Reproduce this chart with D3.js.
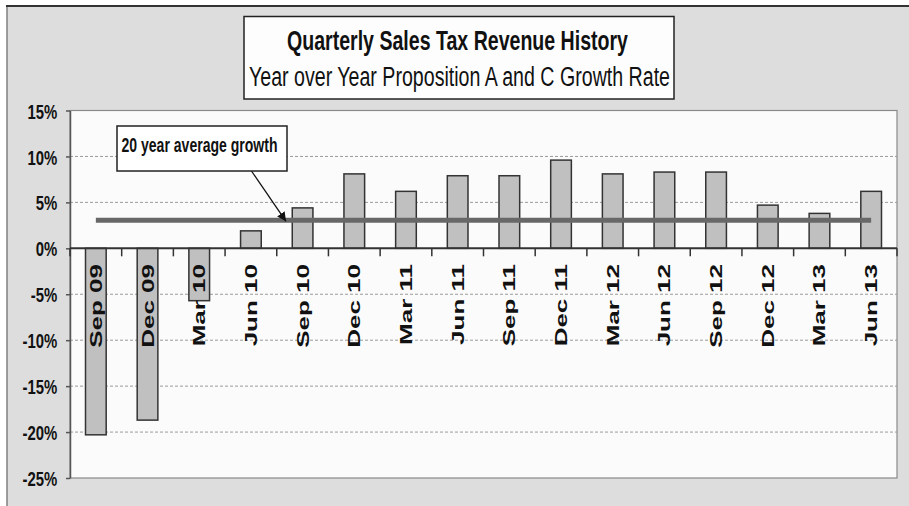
<!DOCTYPE html>
<html>
<head>
<meta charset="utf-8">
<script src="https://cdn.jsdelivr.net/npm/d3@7"></script>
<style>
  html, body { margin: 0; padding: 0; background: #fff; }
  svg { display: block; font-family: "Liberation Sans", Arial, sans-serif; }
</style>
</head>
<body>
<svg id="chart" width="909" height="506"></svg>
<script>
const categories = ['Sep 09', 'Dec 09', 'Mar 10', 'Jun 10', 'Sep 10', 'Dec 10', 'Mar 11', 'Jun 11',
  'Sep 11', 'Dec 11', 'Mar 12', 'Jun 12', 'Sep 12', 'Dec 12', 'Mar 13', 'Jun 13'];
const growthRate = [-20.3, -18.7, -5.7, 1.9, 4.4, 8.1, 6.2, 7.9, 7.9, 9.6, 8.1, 8.3, 8.3, 4.7, 3.8, 6.2];
const avgGrowth = 3.05;
const yTicks = [15, 10, 5, 0, -5, -10, -15, -20, -25];
const titleText = 'Quarterly Sales Tax Revenue History';
const subtitleText = 'Year over Year Proposition A and C Growth Rate';
const noteText = '20 year average growth';

const svg = d3.select('#chart');
const plot = { left: 70, right: 897, top: 110.5, bottom: 478 };

// outer chart frame
svg.append('rect').attr('x', 7).attr('y', 6).attr('width', 1000).attr('height', 600)
  .attr('fill', '#dddddd').attr('stroke', '#808080').attr('stroke-width', 1.5);
svg.append('line').attr('x1', 6).attr('x2', 909).attr('y1', 6).attr('y2', 6)
  .attr('stroke', '#333').attr('stroke-width', 2);

const x = d3.scaleBand().domain(categories).range([plot.left, plot.right]).paddingInner(0.6).paddingOuter(0.3);
const y = d3.scaleLinear().domain([-25, 15]).range([plot.bottom, plot.top]);
const step = x.step();
const bandLeft = d => x(d) - step * 0.3;

svg.append('rect').attr('x', plot.left).attr('y', plot.top)
  .attr('width', plot.right - plot.left).attr('height', plot.bottom - plot.top)
  .attr('fill', '#fbfbfb').attr('stroke', '#8a8a8a').attr('stroke-width', 1.2);

// dashed gridlines
svg.append('g').selectAll('line').data(yTicks.filter(t => t !== 15 && t !== -25 && t !== 0)).join('line')
  .attr('x1', plot.left).attr('x2', plot.right)
  .attr('y1', d => y(d)).attr('y2', d => y(d))
  .attr('stroke', '#9a9a9a').attr('stroke-width', 1).attr('stroke-dasharray', '3,2');

// y axis
const yAxis = svg.append('g').attr('transform', `translate(${plot.left},0)`)
  .call(d3.axisLeft(y).tickValues(yTicks).tickFormat(d => d + '%').tickSize(4).tickSizeOuter(0));
yAxis.select('.domain').attr('stroke', '#555').attr('stroke-width', 1.5);
yAxis.selectAll('.tick line').attr('stroke', '#555').attr('stroke-width', 1.5);
yAxis.selectAll('.tick text')
  .attr('x', -18).attr('dy', '0.36em')
  .attr('transform', 'scale(0.71,1)')
  .attr('font-size', 21).attr('font-weight', 'bold').attr('fill', '#111');

// bars
svg.append('g').selectAll('rect').data(categories).join('rect')
  .attr('x', d => x(d))
  .attr('width', x.bandwidth())
  .attr('y', (d, i) => y(Math.max(0, growthRate[i])))
  .attr('height', (d, i) => Math.abs(y(growthRate[i]) - y(0)))
  .attr('fill', '#c0c0c0').attr('stroke', '#333').attr('stroke-width', 1.5);

// zero axis with category ticks
svg.append('line').attr('x1', plot.left).attr('x2', plot.right).attr('y1', y(0)).attr('y2', y(0))
  .attr('stroke', '#333').attr('stroke-width', 2);
const boundaries = categories.map(bandLeft).concat([plot.right]);
svg.append('g').selectAll('line').data(boundaries).join('line')
  .attr('x1', d => d).attr('x2', d => d).attr('y1', y(0)).attr('y2', y(0) + 8)
  .attr('stroke', '#333').attr('stroke-width', 1.5);

// average growth line
const avgLine = d3.line().x(d => x(d) + x.bandwidth() / 2).y(() => y(avgGrowth));
svg.append('path').datum(categories).attr('d', avgLine)
  .attr('fill', 'none').attr('stroke', '#686868').attr('stroke-width', 5);

// rotated category labels
svg.append('g').selectAll('text').data(categories).join('text')
  .attr('transform', d => `translate(${x(d) + x.bandwidth() / 2},264) rotate(-90) scale(1,0.66)`)
  .attr('text-anchor', 'end').attr('dy', '0.35em')
  .attr('font-size', 26).attr('font-weight', 'bold').attr('fill', '#111')
  .text(d => d);

// annotation
svg.append('defs').append('marker').attr('id', 'arrow').attr('viewBox', '0 0 10 10')
  .attr('refX', 10).attr('refY', 5).attr('markerWidth', 9).attr('markerHeight', 9)
  .attr('markerUnits', 'userSpaceOnUse').attr('orient', 'auto')
  .append('path').attr('d', 'M0,0 L10,5 L0,10 Z').attr('fill', '#111');
svg.append('line').attr('x1', 251.5).attr('y1', 171).attr('x2', 286).attr('y2', y(avgGrowth) + 1)
  .attr('stroke', '#111').attr('stroke-width', 1.3).attr('marker-end', 'url(#arrow)');
svg.append('rect').attr('x', 117).attr('y', 126).attr('width', 170).attr('height', 45)
  .attr('fill', '#fff').attr('stroke', '#222').attr('stroke-width', 1.5);
svg.append('text').attr('x', 121.5).attr('y', 152)
  .attr('textLength', 156).attr('lengthAdjust', 'spacingAndGlyphs')
  .attr('font-size', 20).attr('font-weight', 'bold').attr('fill', '#111')
  .text(noteText);

// title box
svg.append('rect').attr('x', 244).attr('y', 16.5).attr('width', 430).attr('height', 82.5)
  .attr('fill', '#fdfdfd').attr('stroke', '#222').attr('stroke-width', 1.5);
svg.append('text').attr('x', 287).attr('y', 50)
  .attr('textLength', 341).attr('lengthAdjust', 'spacingAndGlyphs')
  .attr('font-size', 28).attr('font-weight', 'bold').attr('fill', '#111')
  .text(titleText);
svg.append('text').attr('x', 249).attr('y', 86)
  .attr('textLength', 421).attr('lengthAdjust', 'spacingAndGlyphs')
  .attr('font-size', 27).attr('fill', '#111')
  .text(subtitleText);
</script>
</body>
</html>
